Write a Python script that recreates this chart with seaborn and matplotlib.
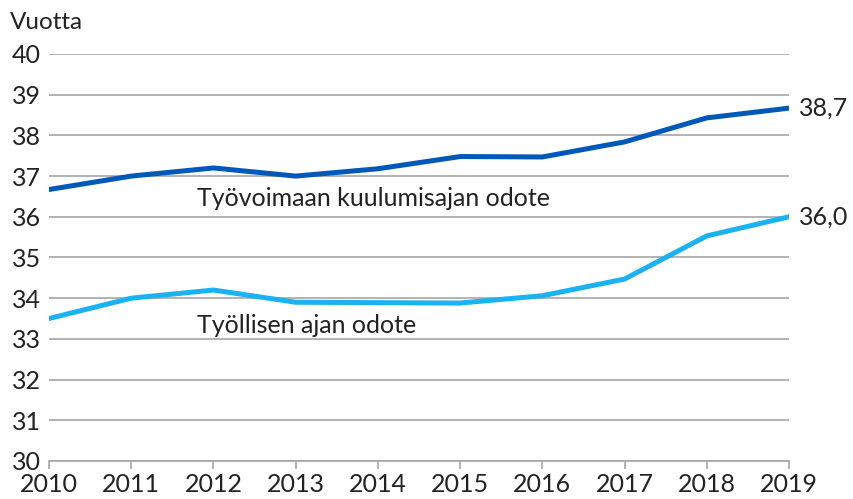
import matplotlib.pyplot as plt
import pandas as pd
import seaborn as sns

# Data
years = [2010, 2011, 2012, 2013, 2014, 2015, 2016, 2017, 2018, 2019]
tyovoima = [36.67, 37.0, 37.2, 37.0, 37.18, 37.48, 37.47, 37.84, 38.43, 38.67]
tyollinen = [33.5, 34.0, 34.2, 33.9, 33.89, 33.88, 34.06, 34.47, 35.53, 36.0]
series_names = ['Työvoimaan kuulumisajan odote', 'Työllisen ajan odote']
end_labels = ['38,7', '36,0']

df = pd.DataFrame({
    'year': years * 2,
    'value': tyovoima + tyollinen,
    'series': [series_names[0]] * len(years) + [series_names[1]] * len(years),
})

sns.set_style('white')
plt.rcParams['font.family'] = ['Lato', 'DejaVu Sans']

colors = {series_names[0]: '#0058b8', series_names[1]: '#1ab2f0'}

fig = plt.figure(figsize=(8.54, 4.99), dpi=100)
ax = fig.add_axes([0.0574, 0.0762, 0.8665, 0.8156])

sns.lineplot(data=df, x='year', y='value', hue='series', palette=colors,
             linewidth=3.6, legend=False, ax=ax)

ax.set_xlim(2010, 2019)
ax.set_ylim(30, 40)
ax.set_yticks(range(30, 41))
ax.set_xticks(years)
ax.yaxis.grid(True, color='#a6a6a6', linewidth=1.2)
ax.set_axisbelow(True)
for s in ['left', 'right', 'top']:
    ax.spines[s].set_visible(False)
ax.spines['bottom'].set_color('#a6a6a6')
ax.spines['bottom'].set_linewidth(1.2)
ax.tick_params(axis='x', length=6, width=1.2, color='#a6a6a6', labelsize=18,
               labelcolor='#222222', pad=3, direction='out', bottom=True)
ax.tick_params(axis='y', length=0, labelsize=18, labelcolor='#222222', pad=6)
ax.set_xlabel('')
ax.set_ylabel('')

ax.text(2011.8, 36.46, series_names[0], fontsize=18, color='#222222', va='center', ha='left')
ax.text(2011.8, 33.34, series_names[1], fontsize=18, color='#222222', va='center', ha='left')
ax.text(2019.12, tyovoima[-1], end_labels[0], fontsize=18, color='#222222', va='center', ha='left')
ax.text(2019.12, tyollinen[-1], end_labels[1], fontsize=18, color='#222222', va='center', ha='left')
fig.text(0.012, 0.955, 'Vuotta', fontsize=17.5, color='#222222', va='center', ha='left')

fig.savefig('out.png', dpi=100)
